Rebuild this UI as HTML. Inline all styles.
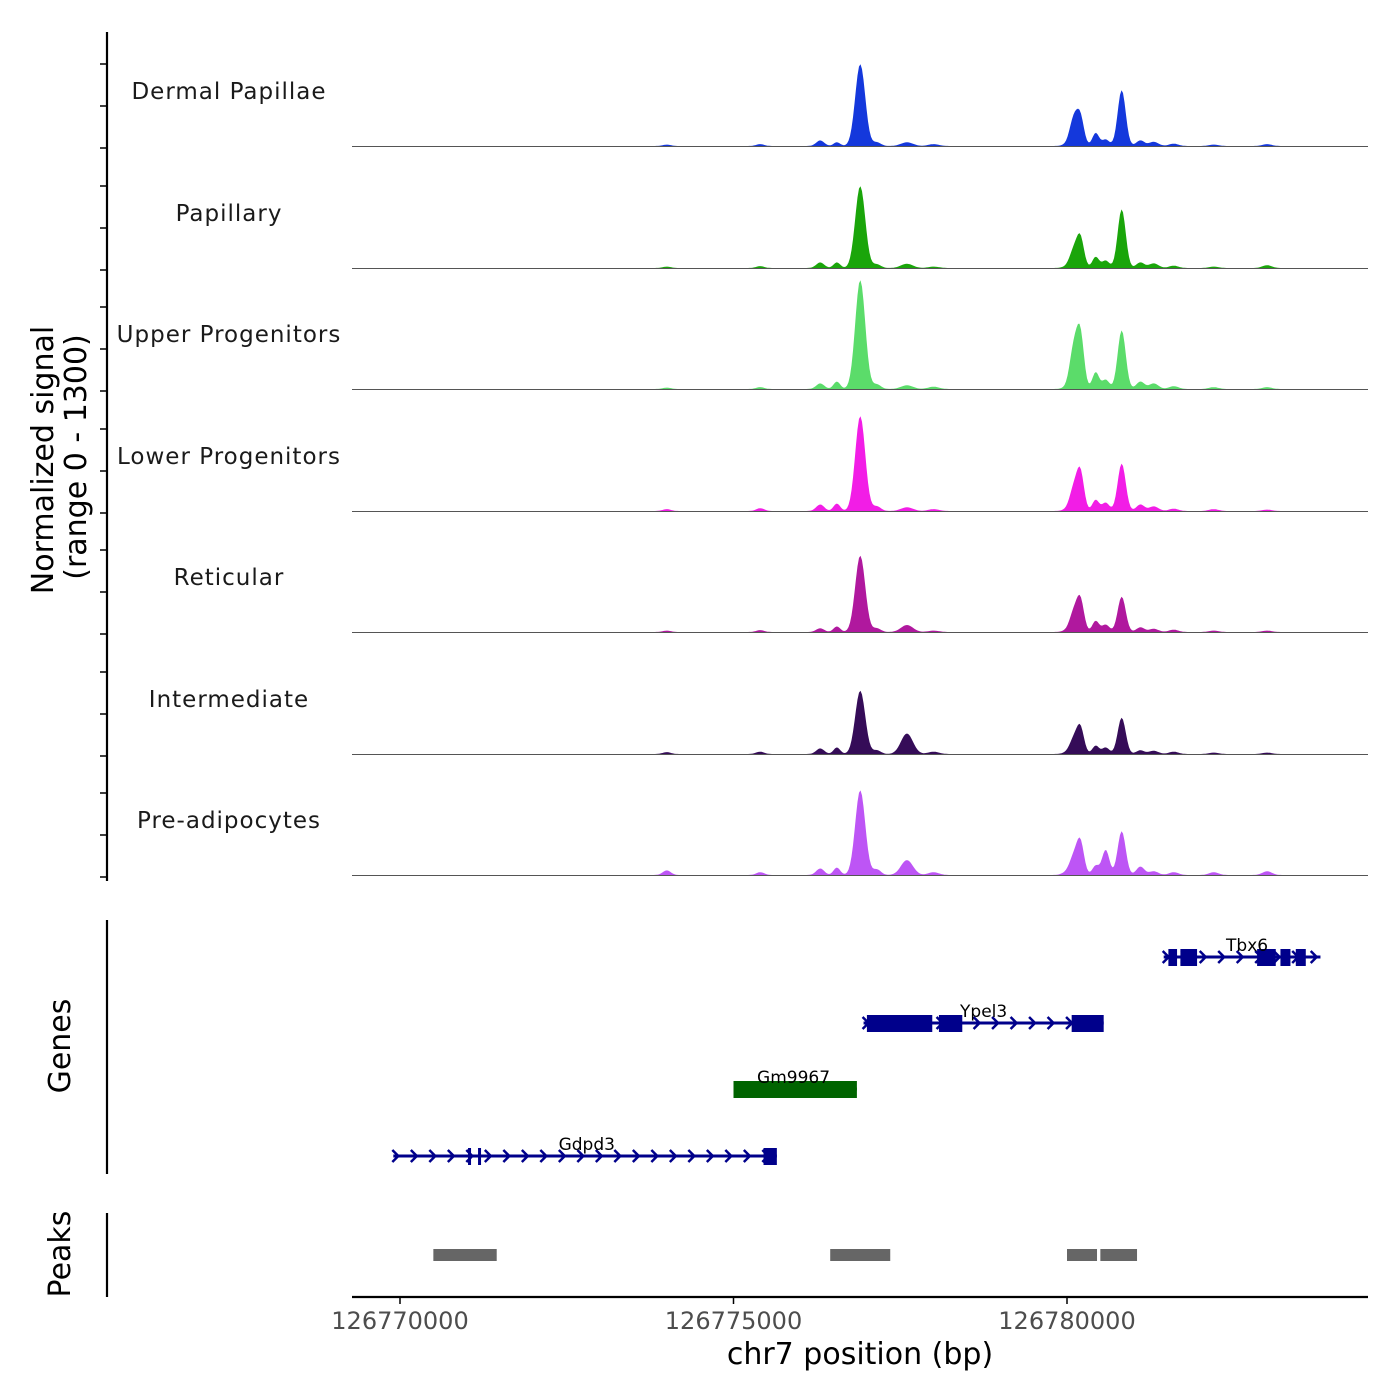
<!DOCTYPE html>
<html><head><meta charset="utf-8"><style>
body{margin:0;background:#fff}
svg{display:block;font-family:"DejaVu Sans","Liberation Sans",sans-serif}
</style></head><body>
<svg id="chart" width="1400" height="1400" viewBox="0 0 1400 1400"></svg>
<script>
const trackNames=["Dermal Papillae","Papillary","Upper Progenitors","Lower Progenitors","Reticular","Intermediate","Pre-adipocytes"];
const trackColors=["#1438dc","#1aa50a","#5bdc6a","#f21de6","#b0189e","#350c58","#bd55f5"];
const peakCenters=[126774000,126775400,126776300,126776550,126776900,126777150,126777600,126778000,126780000,126780100,126780200,126780430,126780580,126780820,126781100,126781300,126781600,126782200,126783000];
const peakHeights=[
[15,20,60,40,880,40,40,20,15,280,300,140,70,600,60,45,25,15,20],
[15,20,60,60,880,40,45,15,15,180,320,120,80,630,60,50,25,15,30],
[15,20,60,80,1170,50,40,25,15,420,570,180,100,630,80,60,30,20,20],
[20,30,70,80,1020,50,40,20,15,230,410,120,90,510,70,50,25,20,15],
[15,20,40,60,820,40,75,15,15,200,340,120,80,380,50,35,25,15,15],
[20,25,60,70,680,40,220,25,15,150,280,90,70,390,40,35,25,15,15],
[50,30,70,80,910,60,160,30,30,180,350,100,270,470,90,40,30,30,40]];
const peakSigma=[60,60,60,50,75,60,90,80,70,60,55,50,55,60,60,70,70,70,70];
const xTicks=[126770000,126775000,126780000];
const genes=[
 {name:"Tbx6",row:0,start:126781450,end:126783800,color:"#00008b",label:126782700,exons:[[126781520,126781650],[126781700,126781950],[126782850,126783130],[126783200,126783350],[126783430,126783580]]},
 {name:"Ypel3",row:1,start:126776950,end:126780550,color:"#00008b",label:126778750,exons:[[126777000,126777980],[126778080,126778430],[126780070,126780550]]},
 {name:"Gm9967",row:2,start:126775000,end:126776850,color:"#006400",label:126775900,exons:[[126775000,126776850]]},
 {name:"Gdpd3",row:3,start:126769900,end:126775650,color:"#00008b",label:126772800,exons:[[126771020,126771050],[126771170,126771200],[126775450,126775650]]}];
const peakRegions=[[126770500,126771450],[126776450,126777350],[126780000,126780450],[126780500,126781050]];

const NS="http://www.w3.org/2000/svg",svg=document.getElementById("chart");
function el(t,a,p){const e=document.createElementNS(NS,t);for(const k in a)e.setAttribute(k,a[k]);(p||svg).appendChild(e);return e;}
const X0=126770000,PX0=400,PXPER=333.5/5000;
const xs=b=>PX0+(b-X0)*PXPER;
const bases=[146,268,389,511,632,754,875];
const ys=(i,v)=>bases[i]-v/1300*121;

let ax=el("line",{x1:107,y1:32,x2:107,y2:881,stroke:"#000","stroke-width":2.2});

bases.forEach(b=>{[0,42,84].forEach(o=>{let t=el("line",{x1:100,y1:b+2-o,x2:107,y2:b+2-o,stroke:"#000","stroke-width":1.5});
});});

trackNames.forEach((n,i)=>{
  let lab=el("text",{x:229,y:bases[i]-47,"text-anchor":"middle","font-size":23,fill:"#1a1a1a","letter-spacing":"1"});
  lab.textContent=n;
  
  let d="M352,"+bases[i];
  for(let px=352;px<=1368;px+=1.5){
    const b=X0+(px-PX0)/PXPER;let v=0;
    peakCenters.forEach((c,k)=>{const z=(b-c)/peakSigma[k];v+=peakHeights[i][k]*Math.exp(-0.5*z*z);});
    d+=" L"+px.toFixed(1)+","+ys(i,v).toFixed(1);
  }
  d+=" L1368,"+bases[i]+" Z";
  let p=el("path",{d:d,fill:trackColors[i]});
  
  let bl=el("line",{x1:352,y1:bases[i]+0.5,x2:1368,y2:bases[i]+0.5,stroke:"#555","stroke-width":1});
  
});

let yt=el("text",{transform:"translate(53,460) rotate(-90)","text-anchor":"middle","font-size":30,fill:"#000"});
yt.textContent="Normalized signal";
let yt2=el("text",{transform:"translate(86,457) rotate(-90)","text-anchor":"middle","font-size":30,fill:"#000"});
yt2.textContent="(range 0 - 1300)";

let gl=el("line",{x1:107,y1:920,x2:107,y2:1174,stroke:"#000","stroke-width":2.2});

let gt=el("text",{transform:"translate(70,1046) rotate(-90)","text-anchor":"middle","font-size":30,fill:"#000"});
gt.textContent="Genes";
const rowY=[957,1023,1089,1156];
genes.forEach(g=>{
  const y=rowY[g.row];
  const grp=el("g",{});
  
  el("line",{x1:xs(g.start),y1:y,x2:xs(g.end),y2:y,stroke:g.color,"stroke-width":3},grp);
  if(g.name!=="Gm9967"){
    for(let px=xs(g.start)+2;px<xs(g.end);px+=18.5)
      el("path",{d:`M${px-3},${y-6} L${px+3},${y} L${px-3},${y+6}`,fill:"none",stroke:g.color,"stroke-width":2.5},grp);
  }
  g.exons.forEach(e=>{const w=Math.max(3,xs(e[1])-xs(e[0]));
    el("rect",{x:xs(e[0]),y:y-8,width:w,height:17,fill:g.color},grp);});
  const t=el("text",{x:xs(g.label),y:y-6,"text-anchor":"middle","font-size":17,fill:"#000"},grp);
  t.textContent=g.name;
});

let pl=el("line",{x1:107,y1:1213,x2:107,y2:1297,stroke:"#000","stroke-width":2.2});

let pt=el("text",{transform:"translate(70,1254) rotate(-90)","text-anchor":"middle","font-size":30,fill:"#000"});
pt.textContent="Peaks";
peakRegions.forEach(r=>{let rc=el("rect",{x:xs(r[0]),y:1249,width:xs(r[1])-xs(r[0]),height:12,fill:"#666"});
});

let xl=el("line",{x1:352,y1:1297,x2:1368,y2:1297,stroke:"#000","stroke-width":2.2});

xTicks.forEach(v=>{
  let t=el("line",{x1:xs(v),y1:1297,x2:xs(v),y2:1304,stroke:"#000","stroke-width":1.5});
  
  let l=el("text",{x:xs(v),y:1329,"text-anchor":"middle","font-size":24,fill:"#4d4d4d"});
  l.textContent=v;
});
let xt=el("text",{x:860,y:1364,"text-anchor":"middle","font-size":30,fill:"#000"});
xt.textContent="chr7 position (bp)";
</script>
</body></html>
